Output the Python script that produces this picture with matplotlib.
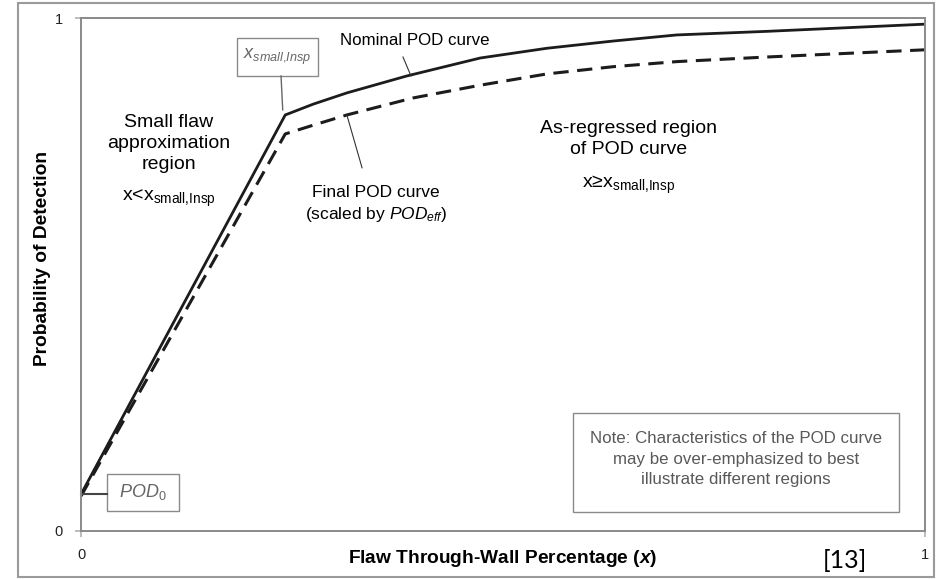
import matplotlib
matplotlib.use("Agg")
import matplotlib.pyplot as plt
from matplotlib.patches import Rectangle

plt.rcParams["font.family"] = ["Liberation Sans", "DejaVu Sans"]
plt.rcParams["mathtext.fontset"] = "custom"
plt.rcParams["mathtext.rm"] = "Liberation Sans"
plt.rcParams["mathtext.it"] = "Liberation Sans:italic"
plt.rcParams["mathtext.bf"] = "Liberation Sans:bold"
plt.rcParams["mathtext.bfit"] = "Liberation Sans:italic:bold"

# values (axes run 0..1 on both sides)
nominal_x = [0.0, 0.242, 0.275, 0.315, 0.386, 0.473, 0.552, 0.630, 0.706, 0.813, 1.0]
nominal_y = [0.0715, 0.811, 0.832, 0.854, 0.887, 0.922, 0.941, 0.955, 0.967, 0.974, 0.988]

final_x = [0.0, 0.242, 0.275, 0.315, 0.393, 0.473, 0.552, 0.630, 0.706, 0.813, 1.0]
final_y = [0.068, 0.774, 0.791, 0.811, 0.844, 0.869, 0.891, 0.905, 0.915, 0.924, 0.938]

x_ticks = [0, 1]
y_ticks = [0, 1]

LINE = "#1c1c1c"
GREY = "#8a8a8a"
NOTE = "#595959"

fig = plt.figure(figsize=(9.36, 5.79), dpi=100)
ax = fig.add_axes([81 / 936, 48 / 579, 844 / 936, 513 / 579])

# outer frame of the picture
fig.patches.append(Rectangle((18 / 936, 2 / 579), 916 / 936, 574 / 579,
                             transform=fig.transFigure, fill=False,
                             edgecolor="#9a9a9a", linewidth=1.5))

ax.plot(nominal_x, nominal_y, color=LINE, lw=2.0, solid_joinstyle="miter")
dashed, = ax.plot(final_x, final_y, color=LINE, lw=2.2)
dashed.set_dashes([5, 2.8])

ax.set_xlim(0, 1)
ax.set_ylim(0, 1)
ax.set_xticks(x_ticks)
ax.set_yticks(y_ticks)
ax.set_xticklabels([str(v) for v in x_ticks])
ax.set_yticklabels([str(v) for v in y_ticks])
ax.tick_params(direction="out", length=4, width=1.2, color="#b0b0b0",
               labelsize=10.5, labelcolor="#222222")
ax.tick_params(axis="y", pad=9)
ax.tick_params(axis="x", pad=8)
for sp in ax.spines.values():
    sp.set_color(GREY)
    sp.set_linewidth(1.4)

ax.set_xlabel(r"Flaw Through-Wall Percentage ($\mathbfit{x}$)",
              fontsize=13.8, fontweight="bold")
ax.xaxis.set_label_coords(0.5, -0.053)
ax.xaxis.label.set_va("center")
ax.set_ylabel("Probability of Detection", fontsize=13.8, fontweight="bold")
ax.yaxis.set_label_coords(-0.046, 0.532)
ax.yaxis.label.set_va("center")

# region descriptions
ax.text(0.104, 0.756, "Small flaw\napproximation\nregion", ha="center",
        va="center", fontsize=14, linespacing=1.3)
ax.text(0.104, 0.649, r"x<x$_\mathregular{small{,}Insp}$", ha="center",
        va="center", fontsize=14)
ax.text(0.649, 0.765, "As-regressed region\nof POD curve", ha="center",
        va="center", fontsize=14, linespacing=1.3)
ax.text(0.649, 0.674, r"x≥x$_\mathregular{small{,}Insp}$", ha="center",
        va="center", fontsize=14)

# curve labels with leader lines
ax.text(0.395, 0.957, "Nominal POD curve", ha="center", va="center",
        fontsize=12.2)
ax.plot([0.3815, 0.391], [0.924, 0.887], color="#333333", lw=0.8)
ax.text(0.3495, 0.659, "Final POD curve", ha="center", va="center",
        fontsize=12.5)
ax.text(0.3495, 0.616, r"(scaled by $POD_{eff}$)", ha="center", va="center",
        fontsize=12.5)
ax.plot([0.315, 0.333], [0.811, 0.708], color="#333333", lw=0.8)

# x_small,Insp callout
ax.add_patch(Rectangle((0.1848, 0.887), 0.096, 0.074, fill=False,
                       edgecolor=GREY, lw=1.0))
ax.text(0.2328, 0.924, r"$x_{small{,}Insp}$", ha="center", va="center",
        fontsize=13, color="#666666")
ax.plot([0.237, 0.239], [0.887, 0.821], color="#666666", lw=1.0)

# POD0 callout
ax.add_patch(Rectangle((0.0308, 0.039), 0.0853, 0.072, fill=False,
                       edgecolor=GREY, lw=1.0))
ax.text(0.0735, 0.076, r"$POD_{\mathit{0}}$", ha="center", va="center",
        fontsize=13, color="#666666")
ax.plot([0.0, 0.0308], [0.0715, 0.0715], color="#444444", lw=1.5,
        clip_on=False)

# note box
ax.add_patch(Rectangle((0.583, 0.037), 0.386, 0.193, fill=False,
                       edgecolor=GREY, lw=1.0))
ax.text(0.776, 0.140, "Note: Characteristics of the POD curve\n"
        "may be over-emphasized to best\nillustrate different regions",
        ha="center", va="center", fontsize=12.2, color=NOTE, linespacing=1.45)

fig.text(845 / 936, 19 / 579, "[13]", ha="center", va="center",
         fontsize=18, family=["Lato", "DejaVu Sans"])

fig.savefig("out.png", dpi=100)
